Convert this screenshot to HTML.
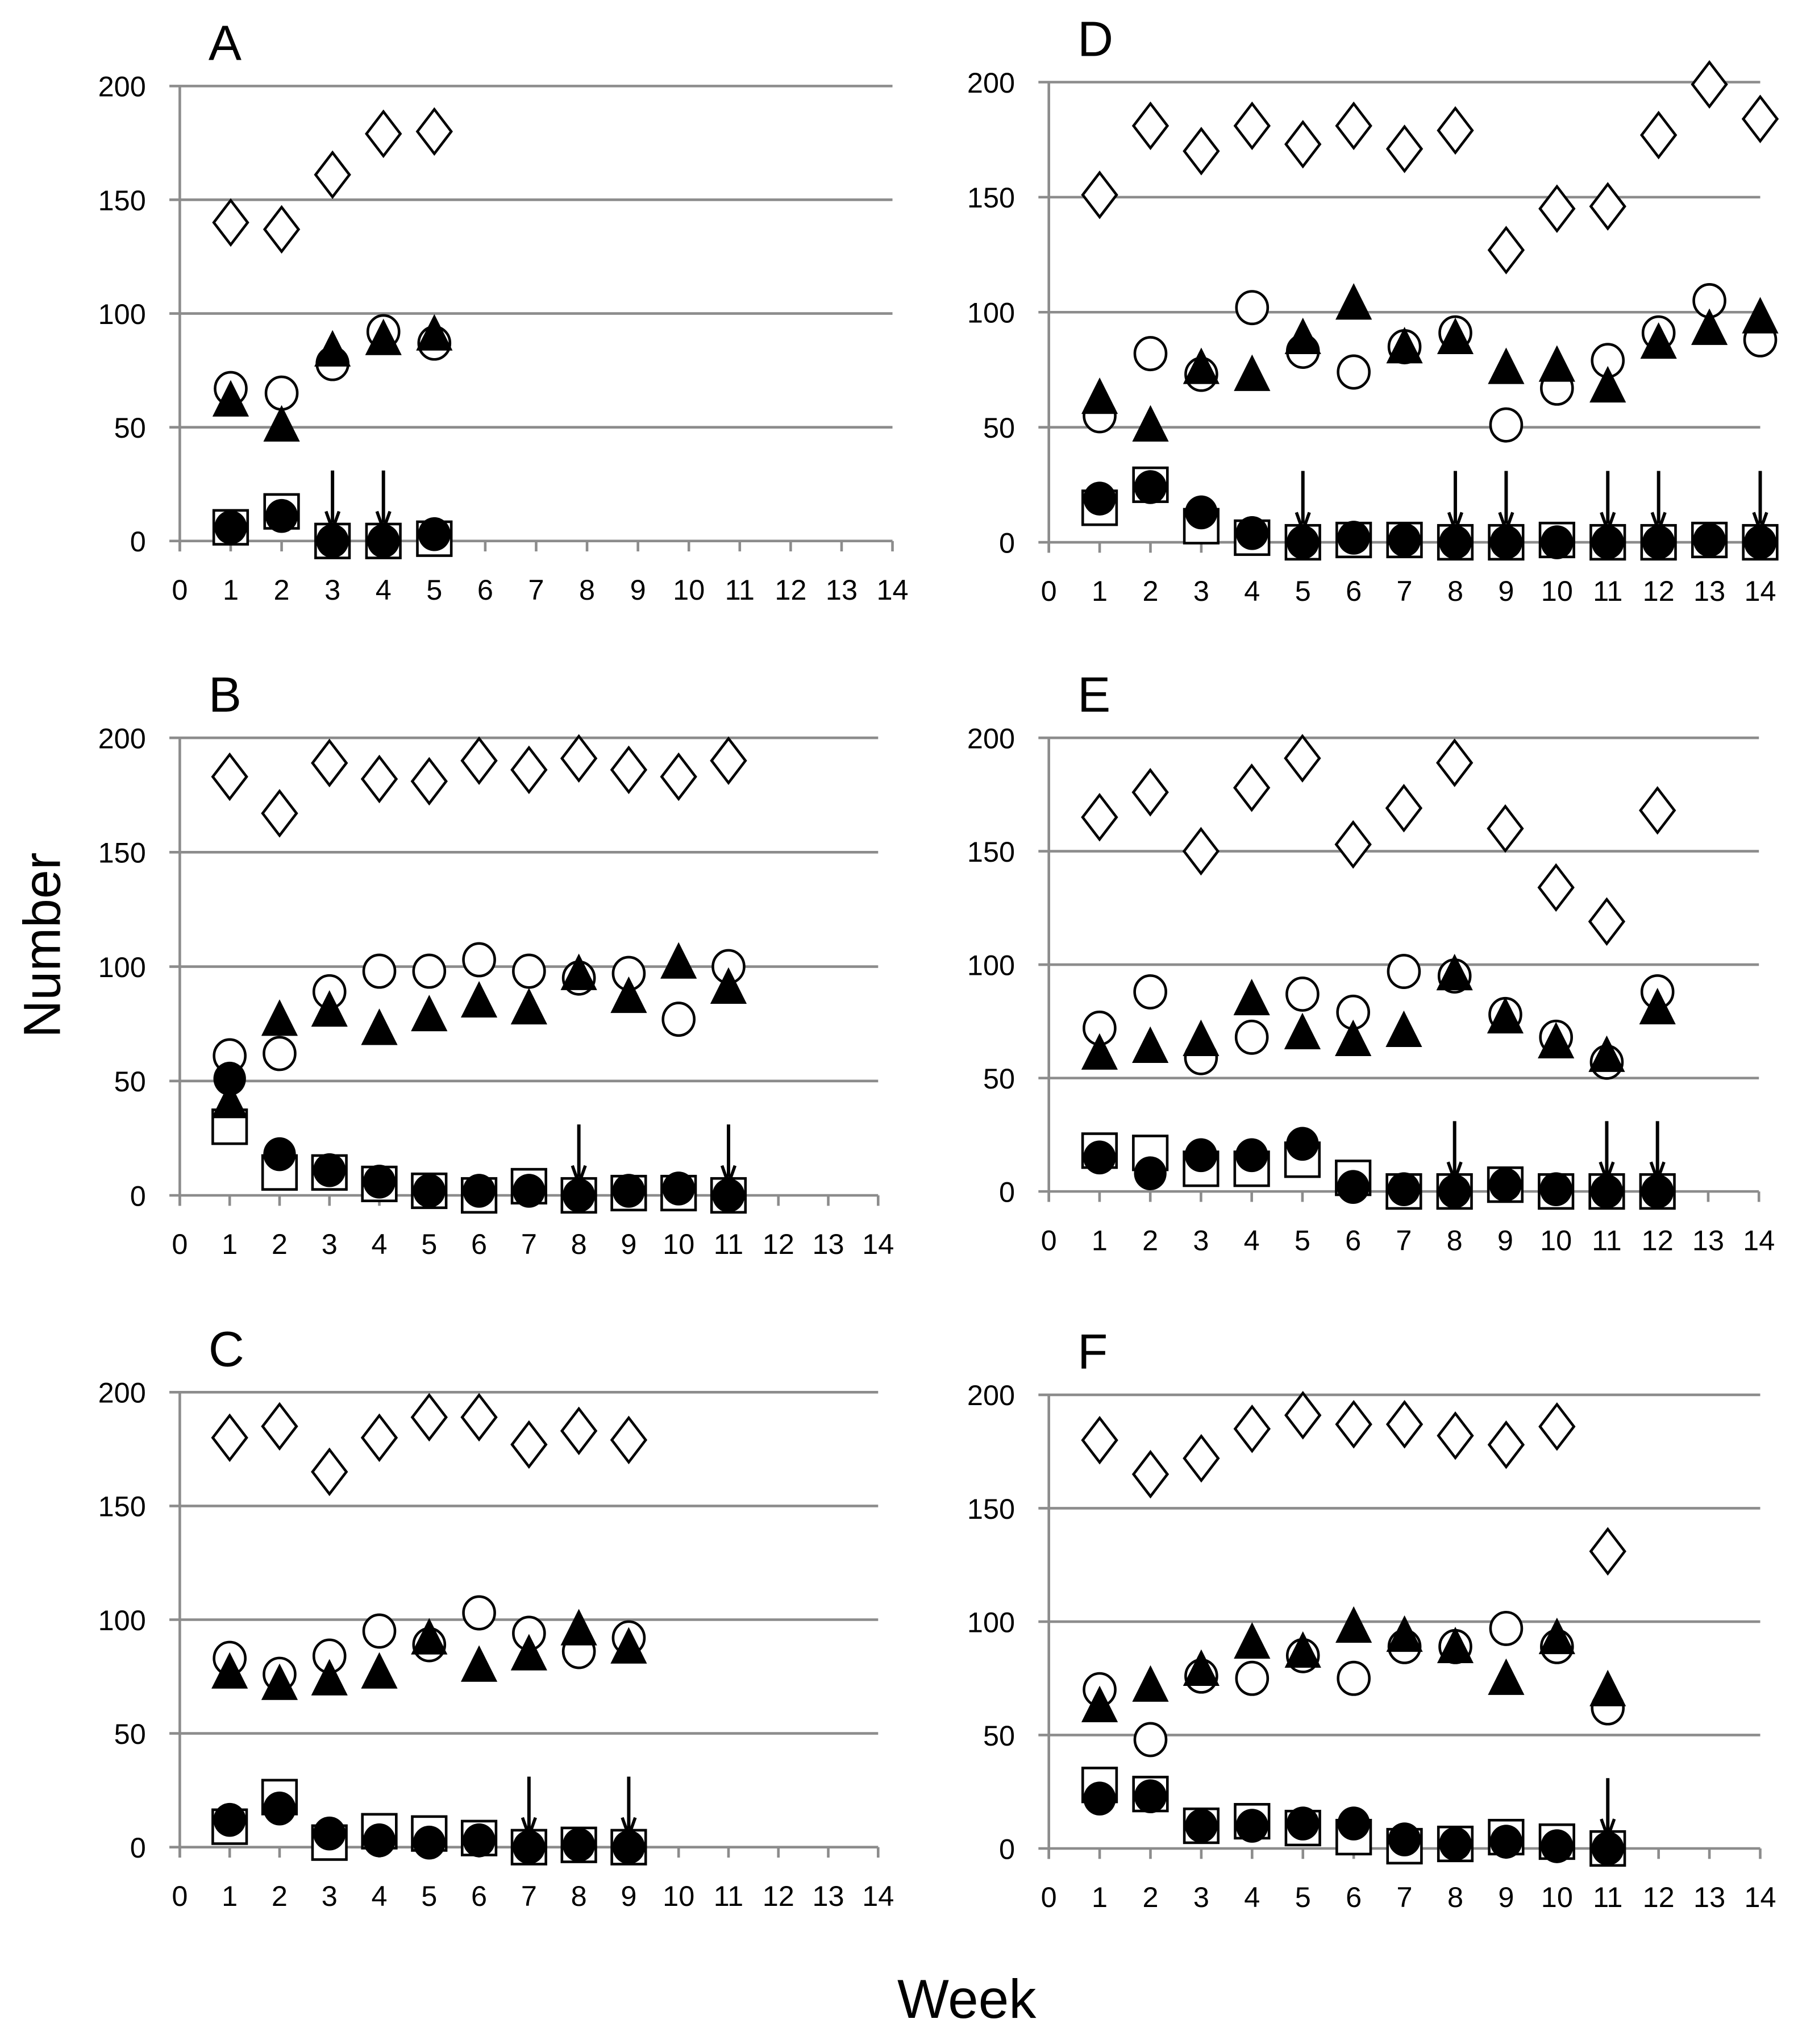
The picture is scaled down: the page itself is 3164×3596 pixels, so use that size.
<!DOCTYPE html>
<html><head><meta charset="utf-8"><style>
html,body{margin:0;padding:0;background:#fff}
svg{display:block}
text{font-family:"Liberation Sans",sans-serif;fill:#000}
</style></head><body>
<svg id="chart" xmlns="http://www.w3.org/2000/svg" width="3164" height="3596" viewBox="0 0 1380 1568" preserveAspectRatio="none">
<text x="0" y="0" font-size="40" text-anchor="middle" transform="translate(46,725) rotate(-90)">Number</text>
<text x="742" y="1548" font-size="42" text-anchor="middle">Week</text>
</svg>
<script>
const weeks = ["0","1","2","3","4","5","6","7","8","9","10","11","12","13","14"];
const yTicks = [0,50,100,150,200];
const panelNames = ["A","B","C","D","E","F"];
const diamondA=[140,137,161,179,180];
const circleA=[67,65,78,92,87];
const triA=[61,50,83,88,90];
const squareA=[6,13,0,0,1];
const dotA=[6,11,0,0,3];
const arrowsA=[3,4];
const diamondB=[183,167,189,182,181,190,186,191,186,183,190];
const circleB=[61,62,89,98,98,103,98,95,97,77,100];
const triB=[40,76,80,72,78,84,81,96,86,101,90];
const squareB=[30,10,10,5,2,0,4,0,1,1,0];
const dotB=[51,18,11,6,2,2,2,0,2,3,0];
const arrowsB=[8,11];
const diamondC=[180,185,165,180,189,189,177,183,179];
const circleC=[83,76,84,95,89,103,94,86,92];
const triC=[76,71,73,76,91,79,84,95,87];
const squareC=[9,22,2,7,6,4,0,1,0];
const dotC=[12,17,6,3,2,3,0,1,0];
const arrowsC=[7,9];
const diamondD=[151,181,170,181,173,181,171,179,127,145,146,177,199,184];
const circleD=[55,82,73,102,83,74,85,91,51,67,79,91,105,88];
const triD=[62,50,75,72,88,103,84,88,75,76,67,86,92,97];
const squareD=[15,25,7,2,0,1,1,0,0,1,0,0,1,0];
const dotD=[19,24,13,4,0,2,1,0,0,0,0,0,1,0];
const arrowsD=[5,8,9,11,12,14];
const diamondE=[165,176,150,178,191,153,169,189,160,134,119,168];
const circleE=[72,88,59,68,87,79,97,95,78,68,57,88];
const triE=[60,63,66,84,69,66,70,95,76,65,59,80];
const squareE=[18,17,10,10,14,6,0,0,3,0,0,0];
const dotE=[15,8,16,16,21,2,1,0,3,1,0,0];
const arrowsE=[8,11,12];
const diamondF=[180,165,172,185,191,187,187,182,178,186,131];
const circleF=[70,48,76,75,85,75,89,89,97,89,62];
const triF=[62,71,78,90,86,97,93,88,74,92,69];
const squareF=[28,24,10,12,9,5,1,2,5,3,0];
const dotF=[22,23,10,10,11,11,4,2,3,1,0];
const arrowsF=[11];

const svg=document.getElementById('chart');
const NS='http://www.w3.org/2000/svg';
function mk(tag,attrs,parent){const e=document.createElementNS(NS,tag);for(const k in attrs)e.setAttribute(k,attrs[k]);(parent||svg).appendChild(e);return e;}

const geo=[
 {x0:138,x14:685,y0:415,y200:66},
 {x0:138,x14:674,y0:917,y200:566},
 {x0:138,x14:674,y0:1417,y200:1068},
 {x0:805,x14:1351,y0:416,y200:63},
 {x0:805,x14:1350,y0:914,y200:566},
 {x0:805,x14:1351,y0:1418,y200:1070}
];
const data=[
 [diamondA,circleA,triA,squareA,dotA,arrowsA],
 [diamondB,circleB,triB,squareB,dotB,arrowsB],
 [diamondC,circleC,triC,squareC,dotC,arrowsC],
 [diamondD,circleD,triD,squareD,dotD,arrowsD],
 [diamondE,circleE,triE,squareE,dotE,arrowsE],
 [diamondF,circleF,triF,squareF,dotF,arrowsF]
];

geo.forEach((g,pi)=>{
 const sx=w=>g.x0+(g.x14-g.x0)*w/14;
 const sy=v=>g.y0+(g.y200-g.y0)*v/200;
 const p=mk('g',{});
 
 
 const t=mk('text',{x:g.x0+22,y:g.y200-20,'font-size':38},p);
 t.textContent=panelNames[pi];
 
 
 yTicks.forEach(v=>{
  const l=mk('line',{x1:g.x0-8,x2:g.x14,y1:sy(v),y2:sy(v),stroke:'#8c8c8c','stroke-width':2},p);
  
  
  const tx=mk('text',{x:g.x0-26,y:sy(v)+8,'font-size':22,'text-anchor':'end'},p);
  tx.textContent=v;
  
  
 });
 const ax=mk('line',{x1:g.x0,x2:g.x0,y1:g.y200,y2:g.y0+8,stroke:'#8c8c8c','stroke-width':2},p);
 
 
 weeks.forEach((w,i)=>{
  const tk=mk('line',{x1:sx(i),x2:sx(i),y1:g.y0,y2:g.y0+8,stroke:'#8c8c8c','stroke-width':2},p);
  
  
  const tx=mk('text',{x:sx(i),y:g.y0+45,'font-size':22,'text-anchor':'middle'},p);
  tx.textContent=w;
  
  
 });
 const [dia,cir,tri,sq,dot,arr]=data[pi];
 dia.forEach((v,i)=>{const x=sx(i+1),y=sy(v);
  const m=mk('polygon',{points:`${x},${y-17} ${x+13},${y} ${x},${y+17} ${x-13},${y}`,fill:'#fff',stroke:'#000','stroke-width':2},p);
  
  });
 sq.forEach((v,i)=>{const x=sx(i+1),y=sy(v);
  const m=mk('rect',{x:x-13,y:y-13,width:26,height:26,fill:'#fff',stroke:'#000','stroke-width':2},p);
  
  });
 cir.forEach((v,i)=>{const x=sx(i+1),y=sy(v);
  const m=mk('ellipse',{cx:x,cy:y,rx:12,ry:12.5,fill:'#fff',stroke:'#000','stroke-width':2},p);
  
  });
 tri.forEach((v,i)=>{const x=sx(i+1),y=sy(v);
  const m=mk('polygon',{points:`${x},${y-17} ${x+14},${y+11} ${x-14},${y+11}`,fill:'#000'},p);
  
  });
 dot.forEach((v,i)=>{const x=sx(i+1),y=sy(v);
  const m=mk('ellipse',{cx:x,cy:y,rx:12.5,ry:13,fill:'#000'},p);
  
  });
 arr.forEach(w=>{const x=sx(w);
  const a=mk('g',{},p);
  
  
  mk('line',{x1:x,x2:x,y1:sy(31),y2:sy(8),stroke:'#000','stroke-width':2.6},a);
  mk('polyline',{points:`${x-5},${sy(13)} ${x},${sy(5)} ${x+5},${sy(13)}`,fill:'none',stroke:'#000','stroke-width':2.4},a);
 });
});
</script>
</body></html>
